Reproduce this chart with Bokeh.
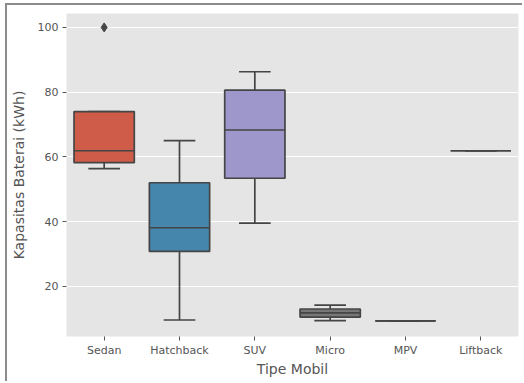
from bokeh.plotting import figure
from bokeh.models import ColumnDataSource, Range1d, FixedTicker, FactorRange
from bokeh.transform import dodge
from bokeh.embed import file_html
from bokeh.resources import INLINE

categories = ["Sedan", "Hatchback", "SUV", "Micro", "MPV", "Liftback"]
q1 = [58.2, 30.8, 53.4, 10.5, 9.3, 61.9]
median = [61.9, 38.1, 68.3, 11.8, 9.3, 61.9]
q3 = [74.0, 52.0, 80.6, 13.0, 9.3, 61.9]
lower = [56.4, 9.6, 39.5, 9.4, 9.3, 61.9]
upper = [74.0, 65.0, 86.3, 14.2, 9.3, 61.9]
outlier_cat = ["Sedan"]
outlier_val = [100.0]
colors = ["#ce5c48", "#4586ac", "#9e97cc", "#777777", "#d9b37a", "#91a865"]

ytick_values = [20, 40, 60, 80, 100]

src = ColumnDataSource(dict(cat=categories, q1=q1, med=median, q3=q3,
                            lo=lower, hi=upper, color=colors))

p = figure(width=517, height=378, x_range=FactorRange(*categories, range_padding=0),
           y_range=Range1d(4.5, 104.3), output_backend="svg", toolbar_location=None,
           min_border_left=57, min_border_right=6, min_border_top=8, min_border_bottom=47)
p.styles = {"margin-left": "5px", "margin-top": "3px",
            "border-left": "2px solid #8c8c8c", "border-top": "2px solid #8c8c8c"}

p.background_fill_color = "#e5e5e5"
p.border_fill_color = "white"
p.outline_line_color = None

line_col = "#454545"
lw = 1.7

# whiskers
p.segment(x0="cat", y0="q3", x1="cat", y1="hi", source=src, line_color=line_col, line_width=lw)
p.segment(x0="cat", y0="q1", x1="cat", y1="lo", source=src, line_color=line_col, line_width=lw)
# caps
p.segment(x0=dodge("cat", -0.21, range=p.x_range), y0="hi", x1=dodge("cat", 0.21, range=p.x_range), y1="hi",
          source=src, line_color=line_col, line_width=lw)
p.segment(x0=dodge("cat", -0.21, range=p.x_range), y0="lo", x1=dodge("cat", 0.21, range=p.x_range), y1="lo",
          source=src, line_color=line_col, line_width=lw)
# boxes
p.vbar(x="cat", top="q3", bottom="q1", width=0.8, source=src, fill_color="color",
       line_color=line_col, line_width=lw)
# medians
p.segment(x0=dodge("cat", -0.4, range=p.x_range), y0="med", x1=dodge("cat", 0.4, range=p.x_range), y1="med",
          source=src, line_color=line_col, line_width=lw)
# outliers
p.scatter(x=outlier_cat, y=outlier_val, marker="diamond", size=9,
          fill_color=line_col, line_color=line_col)

p.xgrid.grid_line_color = None
p.ygrid.grid_line_color = "white"
p.ygrid.grid_line_width = 1
p.yaxis.ticker = FixedTicker(ticks=ytick_values)

for ax in (p.xaxis, p.yaxis):
    ax.axis_line_color = None
    ax.major_tick_line_color = "#555555"
    ax.major_tick_out = 4
    ax.major_tick_in = 0
    ax.minor_tick_line_color = None
    ax.major_label_text_font = "DejaVu Sans"
    ax.major_label_text_font_size = "11px"
    ax.major_label_text_color = "#555555"
    ax.axis_label_text_font = "DejaVu Sans"
    ax.axis_label_text_font_size = "14px"
    ax.axis_label_text_font_style = "normal"
    ax.axis_label_text_color = "#555555"

p.xaxis.axis_label = "Tipe Mobil"
p.yaxis.axis_label = "Kapasitas Baterai (kWh)"
p.xaxis.major_label_standoff = 3
p.yaxis.major_label_standoff = 4
p.xaxis.axis_label_standoff = 1
p.yaxis.axis_label_standoff = 8

open("out.html", "w").write(file_html(p, INLINE))
